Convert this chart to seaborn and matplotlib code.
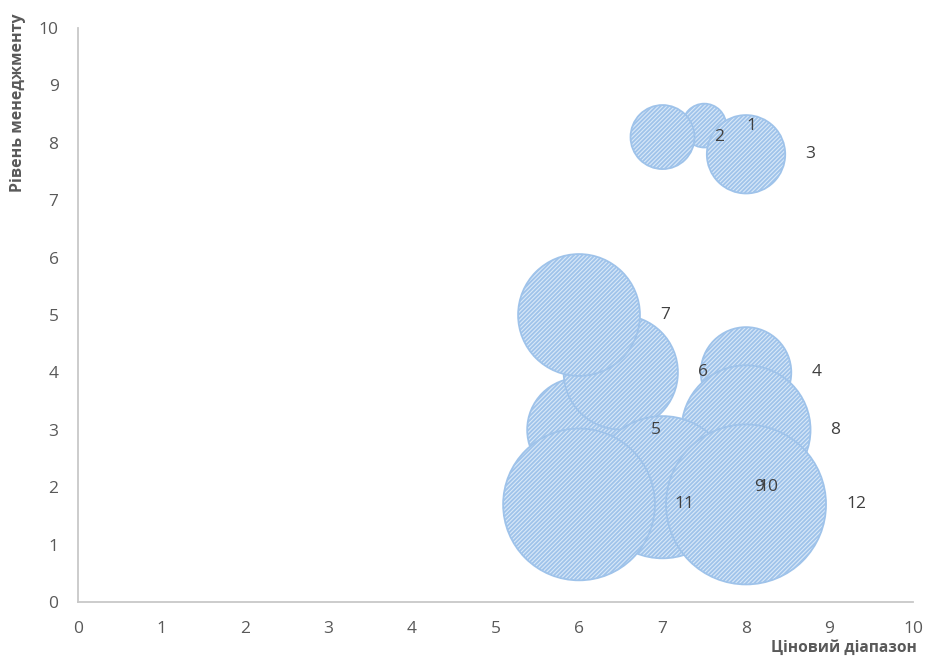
import numpy as np
import pandas as pd
import matplotlib
matplotlib.use("Agg")
import matplotlib.pyplot as plt
import seaborn as sns

# Bubble data: price range (x), management level (y), relative bubble size
labels = ["1", "2", "3", "4", "5", "6", "7", "8", "9", "10", "11", "12"]
price_range = [7.5, 7.0, 8.0, 8.0, 6.0, 6.5, 6.0, 8.0, 7.0, 7.66, 6.0, 8.0]
management = [8.3, 8.1, 7.8, 4.0, 3.0, 4.0, 5.0, 3.0, 2.0, 2.0, 1.7, 1.7]
bubble_size = [7.5, 16, 24, 32, 42, 51, 58, 65, 79, 7, 90, 100]

x_ticks = list(range(0, 11))
y_ticks = list(range(0, 11))
x_title = "Ціновий діапазон"
y_title = "Рівень менеджменту"

df = pd.DataFrame({"label": labels, "x": price_range, "y": management, "size": bubble_size})

sns.set_theme(style="white")
plt.rcParams["font.family"] = ["Open Sans", "DejaVu Sans"]
plt.rcParams["hatch.linewidth"] = 1.3
plt.rcParams["hatch.color"] = "#9FC3EA"

DPI = 100
fig = plt.figure(figsize=(9.33, 6.57), dpi=DPI)
ax = fig.add_axes([0.0836, 0.0837, 0.8950, 0.8737])

MAX_AREA = 13271.0  # marker area (pt^2) of the largest bubble
size_max = 100.0

sns.scatterplot(
    data=df, x="x", y="y", size="size",
    sizes=(0, MAX_AREA), size_norm=(0, size_max),
    color="#D8E8F8", edgecolor="#9FC3EA", linewidth=1.3,
    hatch="////////", legend=False, ax=ax, zorder=3,
)

# Data labels to the right of each bubble
for _, row in df.iterrows():
    r_pt = np.sqrt(row["size"] / size_max * MAX_AREA) / 2.0
    ax.annotate(row["label"], (row["x"], row["y"]),
                xytext=(r_pt + 14.4, 0), textcoords="offset points",
                ha="left", va="center", fontsize=12.5, color="#404040", zorder=5)

ax.set_xlim(0, 10)
ax.set_ylim(0, 10)
ax.set_xticks(x_ticks)
ax.set_yticks(y_ticks)
ax.set_xticklabels([str(t) for t in x_ticks])
ax.set_yticklabels([str(t) for t in y_ticks])
ax.tick_params(axis="both", length=0, labelsize=12.5, labelcolor="#595959")
ax.tick_params(axis="x", pad=14)
ax.tick_params(axis="y", pad=14)

for side in ["top", "right"]:
    ax.spines[side].set_visible(False)
for side in ["left", "bottom"]:
    ax.spines[side].set_color("#C8C8C8")
    ax.spines[side].set_linewidth(1.3)

ax.set_xlabel("")
ax.set_ylabel("")
fig.text(0.9825, 0.0137, x_title, ha="right", va="center",
         fontsize=11.2, fontweight="bold", color="#595959")
fig.text(0.0193, 0.980, y_title, ha="center", va="top", rotation=90,
         fontsize=11.5, fontweight="bold", color="#595959")

fig.savefig("out.png", dpi=DPI)
